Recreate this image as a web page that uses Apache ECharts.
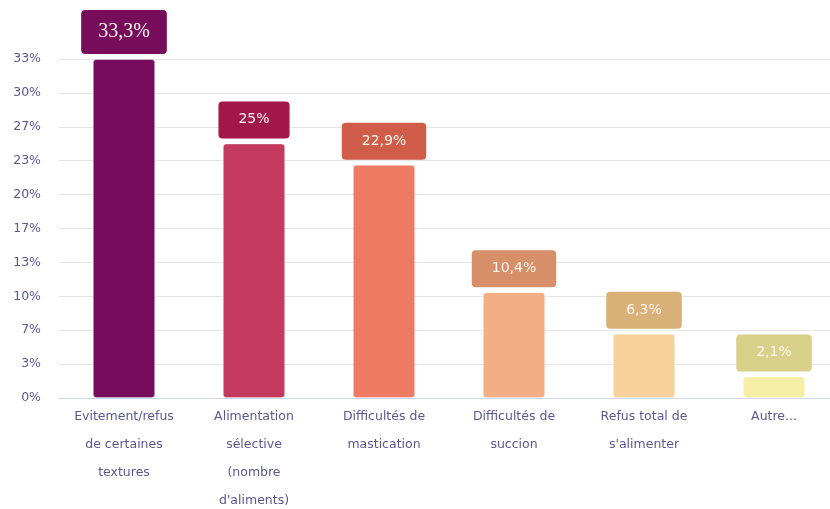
<!DOCTYPE html>
<html>
<head>
<meta charset="utf-8">
<script src="https://cdn.jsdelivr.net/npm/echarts@6/dist/echarts.min.js"></script>
<style>
	html, body { margin: 0; padding: 0; background: #fff; }
	#chart { width: 830px; height: 509px; }
</style>
</head>
<body>
<div id="chart"></div>
<script>
	// catégories (retours à la ligne comme dans l'original)
	var categories = [
		'Evitement/refus\nde certaines\ntextures',
		'Alimentation\nsélective\n(nombre\nd\'aliments)',
		'Difficultés de\nmastication',
		'Difficultés de\nsuccion',
		'Refus total de\ns\'alimenter',
		'Autre...'
	];
	var values = [33.3, 25, 22.9, 10.4, 6.3, 2.1];
	var barColors = ['#780c5c', '#c43a5e', '#ef7a64', '#f4ae85', '#f8d09a', '#f7eea6'];
	var labelColors = ['#760c5a', '#a3164a', '#cf5d4a', '#d68f68', '#d9b078', '#d9d08a'];

	var axisColor = '#5a5793';
	var font = 'DejaVu Sans';

	var seriesData = values.map(function (v, i) {
		var item = {
			value: v,
			itemStyle: { color: barColors[i] },
			label: { backgroundColor: labelColors[i] }
		};
		// la première étiquette est affichée en police serif, plus grande
		if (i === 0) {
			item.label.fontFamily = 'Liberation Serif';
			item.label.fontSize = 20;
			item.label.padding = [12, 17, 12, 17];
		}
		return item;
	});

	var chart = echarts.init(document.getElementById('chart'));
	chart.setOption({
		animation: false,
		grid: {
			left: 59,
			top: 59,
			width: 780,
			bottom: 111,
			containLabel: false,
			outerBoundsMode: 'none'
		},
		xAxis: {
			type: 'category',
			data: categories,
			axisTick: { show: false },
			axisLine: { lineStyle: { color: '#ccd6eb' } },
			axisLabel: {
				color: axisColor,
				fontFamily: font,
				fontSize: 12.5,
				lineHeight: 28,
				margin: 5,
				interval: 0
			}
		},
		yAxis: {
			type: 'value',
			min: 0,
			max: 33.3,
			interval: 3.33,
			axisLine: { show: false },
			axisTick: { show: false },
			splitLine: { lineStyle: { color: '#e6e6e6' } },
			axisLabel: {
				color: axisColor,
				fontFamily: font,
				fontSize: 12.5,
				margin: 18,
				formatter: function (v) { return Math.round(v) + '%'; }
			}
		},
		series: [{
			type: 'bar',
			barWidth: '48%',
			data: seriesData,
			itemStyle: {
				borderRadius: 3,
				borderColor: 'rgba(255,255,255,0.35)',
				borderWidth: 1
			},
			label: {
				show: true,
				position: 'top',
				distance: 5,
				color: '#fdf6ee',
				fontFamily: font,
				fontSize: 14,
				padding: [11, 20, 12, 20],
				borderRadius: 4,
				formatter: function (p) { return String(p.value).replace('.', ',') + '%'; }
			}
		}]
	});
</script>
</body>
</html>
